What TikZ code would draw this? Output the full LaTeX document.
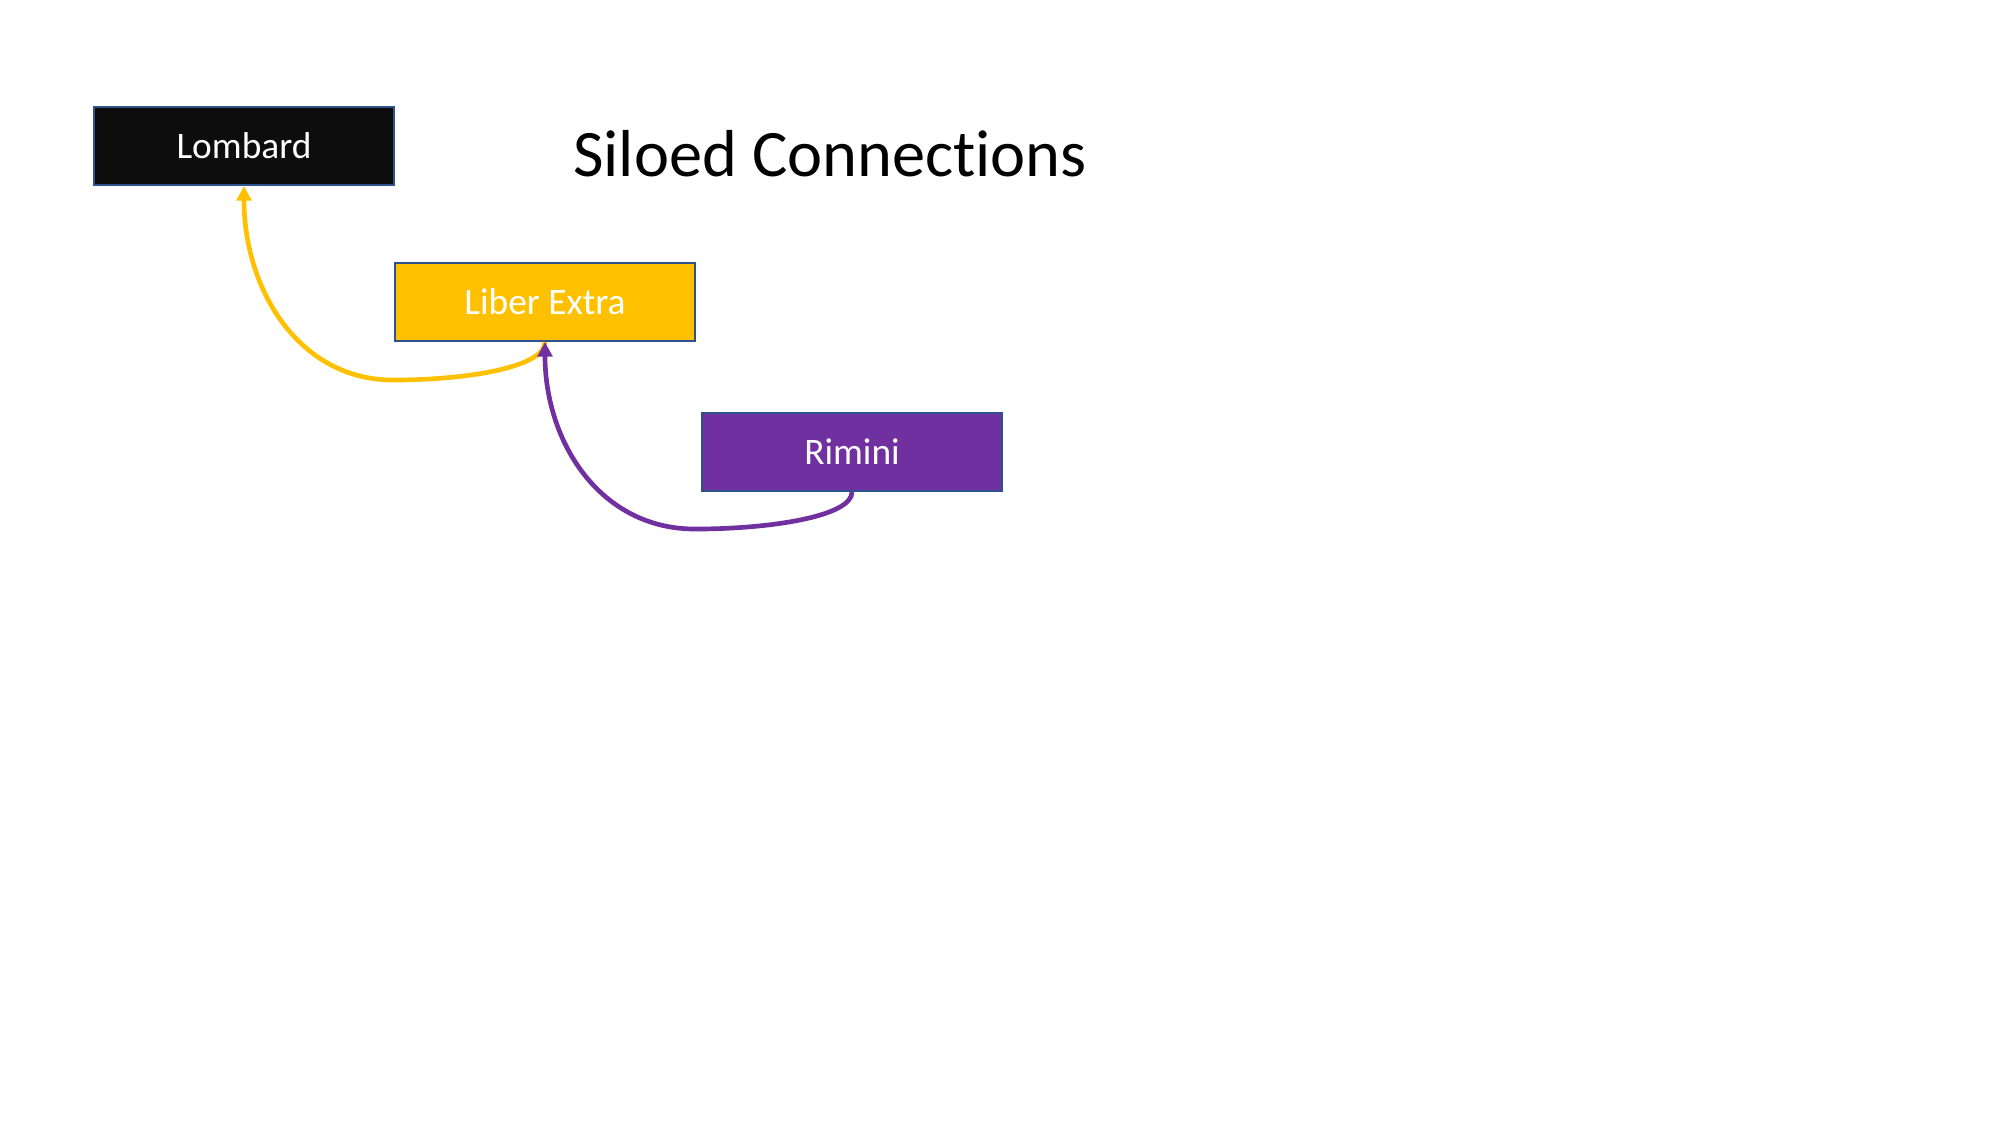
\documentclass[tikz,border=0pt]{standalone}
\usepackage{fontspec}
\setmainfont{Carlito}[Ligatures=NoCommon]
\usepackage{tikz}
\usetikzlibrary{arrows.meta,calc}

\definecolor{boxline}{HTML}{2F528F}
\definecolor{lombardfill}{HTML}{0D0D0D}
\definecolor{liberfill}{HTML}{FFC000}
\definecolor{riminifill}{HTML}{7030A0}

\begin{document}
\begin{tikzpicture}[x=0.16933mm,y=-0.16933mm,
    sourcebox/.style={draw=boxline,line width=1pt,minimum width=50.8mm,minimum height=13.2mm,inner sep=0pt,text=white,font=\fontsize{18}{21}\selectfont},
    link/.style={line width=2.25pt,-{Triangle[length=7pt,width=7pt]}}]
            \useasboundingbox (0,0) rectangle (2000,1125);
            \node[anchor=base,font=\fontsize{32}{38}\selectfont] (Title) at (830,176) {Siloed Connections};
            \node[sourcebox,fill=lombardfill] (Lombard) at (244,146) {Lombard};
            \node[sourcebox,fill=liberfill] (Liber) at (545,302) {Liber Extra};
            \node[sourcebox,fill=riminifill] (Rimini) at (852,452) {Rimini};
            \draw[link,liberfill] (Liber.south) .. controls +(0,25) and +(75,0) .. ($(Liber.south)+(-152,38)$)
                .. controls +(-93,0) and +(0,105) .. (Lombard.south);
            \draw[link,riminifill] (Rimini.south) .. controls +(0,24) and +(77,0) .. ($(Rimini.south)+(-157,37)$)
                .. controls +(-95,0) and +(0,100) .. (Liber.south);
        \end{tikzpicture}
\end{document}
